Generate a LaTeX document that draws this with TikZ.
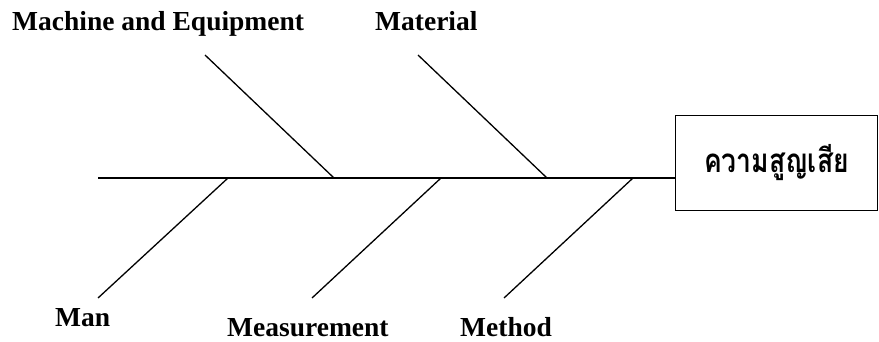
\documentclass[tikz,border=0pt]{standalone}
\usepackage{fontspec}
\setmainfont{Liberation Serif}
\newfontfamily\thaifont[Script=Thai]{Loma}
\begin{document}
\begin{tikzpicture}[x=1pt,y=-1pt,
  bone/.style={line width=1.3pt,line cap=butt},
  cat/.style={font=\fontsize{27.5}{30}\selectfont\bfseries,inner sep=0pt,anchor=base west},
  headbox/.style={draw,line width=1.3pt,minimum width=202pt,minimum height=95pt,inner sep=0pt,
    font=\thaifont\fontsize{26.5}{30}\selectfont\bfseries}]
\useasboundingbox (0,0) rectangle (879,342);
% head
\node[headbox] (loss) at (776.5,163) {\raisebox{2pt}{\scalebox{1}[1.25]{ความสูญเสีย}}};
% spine
\coordinate (tail) at (98,178);
\draw[bone] (tail) -- (loss.west |- tail);
% labels
\node[cat] (mach) at (12,31) {Machine and Equipment};
\node[cat] (mat) at (375,31) {Material};
\node[cat] (man) at (55,326) {Man};
\node[cat] (meas) at (227,336.5) {Measurement};
\node[cat] (meth) at (460,336.5) {Method};
% bone ends
\coordinate (machS) at (205,55);
\coordinate (machE) at (334,178);
\coordinate (matS) at (418,55);
\coordinate (matE) at (547,178);
\coordinate (manS) at (98,298);
\coordinate (manE) at (228,178);
\coordinate (measS) at (312,298);
\coordinate (measE) at (441,178);
\coordinate (methS) at (504,298);
\coordinate (methE) at (633,178);
\draw[bone] (machS) -- (machE);
\draw[bone] (matS) -- (matE);
\draw[bone] (manS) -- (manE);
\draw[bone] (measS) -- (measE);
\draw[bone] (methS) -- (methE);
\end{tikzpicture}
\end{document}
